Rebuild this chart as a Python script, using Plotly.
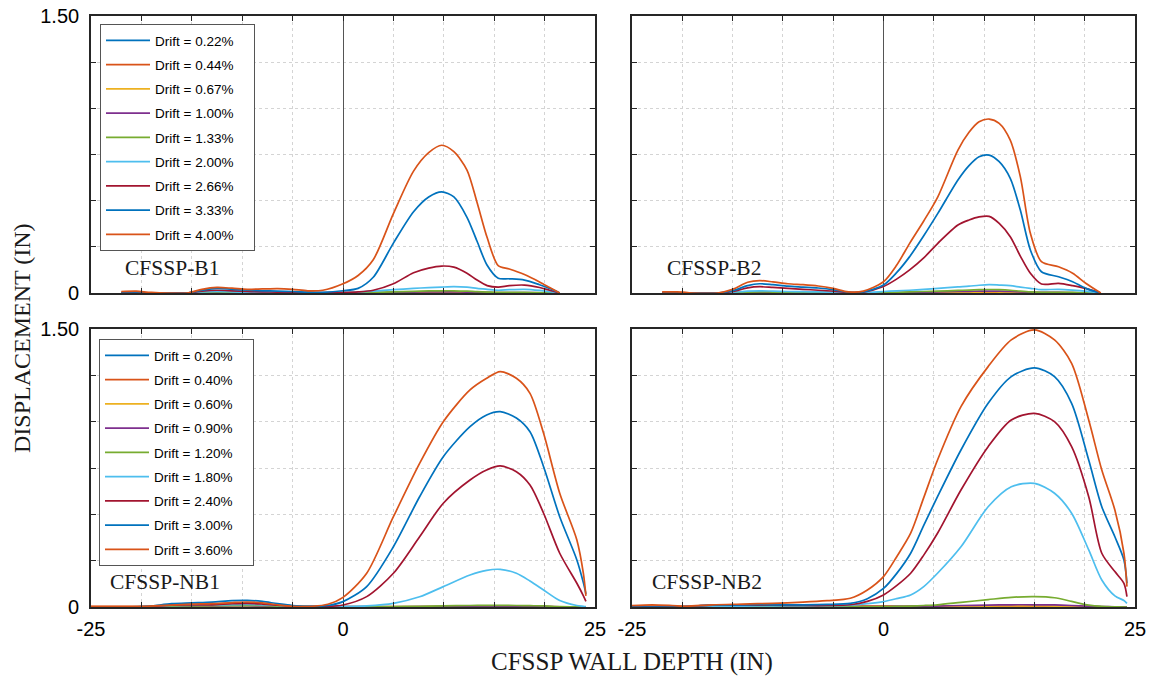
import plotly.graph_objects as go

# ---------------- data: displacement (in) vs wall depth (in) ----------------
# CFSSP-B1
b1_depth = [-22, -20.5, -19, -15.5, -14, -12.5, -11, -9.5, -8, -6.5, -5, -3.5, -2, 0, 1.5, 3, 5, 7,
            8.5, 9.8, 11, 12.3, 13.3, 14.3, 15.4, 16.5, 18, 19.5, 20.5, 21.5]
b1_drift = ["0.22%", "0.44%", "0.67%", "1.00%", "1.33%", "2.00%", "2.66%", "3.33%", "4.00%"]
b1_d022 = [0, 0, 0, 0, 0.001, 0.002, 0.001, 0.001, 0.001, 0.001, 0, 0, 0, 0, 0, 0.001, 0.001, 0.001,
           0.002, 0.002, 0.002, 0.002, 0.001, 0.001, 0.001, 0.001, 0.001, 0, 0, 0]
b1_d044 = [0.002, 0.002, 0, 0, 0.002, 0.002, 0.002, 0.001, 0.001, 0.001, 0.001, 0, 0, 0, 0.001, 0.001, 0.001, 0.002,
           0.002, 0.003, 0.003, 0.002, 0.002, 0.001, 0.001, 0.001, 0.001, 0, 0, 0]
b1_d067 = [0, 0, 0, 0, 0.002, 0.003, 0.002, 0.002, 0.001, 0.001, 0.001, 0.001, 0, 0, 0.001, 0.001, 0.002, 0.003,
           0.004, 0.004, 0.004, 0.003, 0.002, 0.002, 0.001, 0.001, 0.001, 0.001, 0, 0]
b1_d100 = [0, 0, 0, 0, 0.003, 0.004, 0.003, 0.002, 0.002, 0.001, 0.001, 0.001, 0.001, 0.001, 0.001, 0.002, 0.003, 0.005,
           0.006, 0.006, 0.006, 0.005, 0.004, 0.003, 0.002, 0.002, 0.002, 0.001, 0.001, 0]
b1_d133 = [0, 0, 0, 0, 0.004, 0.006, 0.004, 0.003, 0.002, 0.002, 0.001, 0.001, 0.001, 0.001, 0.002, 0.004, 0.006, 0.009,
           0.011, 0.012, 0.012, 0.010, 0.007, 0.005, 0.003, 0.003, 0.003, 0.002, 0.001, 0]
b1_d200 = [0, 0, 0, 0, 0.006, 0.008, 0.006, 0.004, 0.003, 0.002, 0.002, 0.001, 0.001, 0.002, 0.005, 0.010, 0.018, 0.025,
           0.029, 0.032, 0.034, 0.032, 0.025, 0.020, 0.015, 0.018, 0.020, 0.014, 0.007, 0]
b1_d266 = [0, 0, 0, 0, 0.010, 0.015, 0.012, 0.008, 0.006, 0.005, 0.004, 0.003, 0.002, 0.003, 0.006, 0.015, 0.050, 0.110,
           0.135, 0.146, 0.140, 0.107, 0.070, 0.040, 0.032, 0.040, 0.043, 0.030, 0.015, 0]
b1_d333 = [0, 0, 0, 0, 0.015, 0.025, 0.020, 0.015, 0.012, 0.010, 0.008, 0.005, 0.004, 0.012, 0.025, 0.085, 0.270, 0.440,
           0.520, 0.548, 0.520, 0.410, 0.280, 0.150, 0.080, 0.077, 0.070, 0.045, 0.025, 0]
b1_d400 = [0.008, 0.010, 0.003, 0.000, 0.020, 0.030, 0.026, 0.020, 0.022, 0.024, 0.020, 0.012, 0.015, 0.050, 0.095,
           0.180, 0.430, 0.660, 0.760, 0.800, 0.765, 0.666, 0.490, 0.300, 0.148, 0.130, 0.100, 0.060, 0.030, 0.000]

# CFSSP-B2
b2_depth = [-22, -20.5, -19, -16.5, -15, -13.5, -12.3, -11, -9.5, -8, -6.5, -5, -3.5, -2, 0, 1.3, 2.6, 4, 5.4,
            7.4, 8.5, 9.5, 10.5, 11.5, 12.6, 13.6, 14.6, 15.7, 17.4, 18.8, 20.1, 21.6]
b2_drift = b1_drift
b2_d022 = [0, 0, 0, 0, 0.001, 0.001, 0.002, 0.001, 0.001, 0.001, 0.001, 0, 0, 0, 0, 0, 0.001, 0.001, 0.001,
           0.002, 0.002, 0.002, 0.002, 0.002, 0.002, 0.001, 0.001, 0.001, 0.001, 0, 0, 0]
b2_d044 = [0.003, 0.003, 0, 0, 0.001, 0.002, 0.002, 0.002, 0.002, 0.001, 0.001, 0.001, 0, 0, 0, 0.001, 0.001, 0.001,
           0.002, 0.003, 0.003, 0.003, 0.004, 0.003, 0.003, 0.002, 0.001, 0.001, 0.001, 0.001, 0, 0]
b2_d067 = [0, 0, 0, 0, 0.001, 0.003, 0.003, 0.003, 0.002, 0.002, 0.002, 0.001, 0, 0, 0.001, 0.001, 0.002, 0.002,
           0.003, 0.004, 0.005, 0.005, 0.006, 0.005, 0.004, 0.003, 0.002, 0.002, 0.002, 0.001, 0.001, 0]
b2_d100 = [0, 0, 0, 0, 0.002, 0.004, 0.004, 0.004, 0.003, 0.003, 0.002, 0.002, 0.001, 0.001, 0.001, 0.002, 0.003, 0.004,
           0.006, 0.008, 0.009, 0.010, 0.010, 0.010, 0.008, 0.006, 0.004, 0.003, 0.003, 0.002, 0.001, 0]
b2_d133 = [0, 0, 0, 0, 0.002, 0.005, 0.006, 0.005, 0.004, 0.003, 0.003, 0.002, 0.001, 0.001, 0.002, 0.004, 0.006, 0.008,
           0.010, 0.014, 0.016, 0.018, 0.019, 0.018, 0.015, 0.010, 0.006, 0.004, 0.004, 0.003, 0.002, 0]
b2_d200 = [0, 0, 0, 0, 0.004, 0.010, 0.012, 0.010, 0.008, 0.007, 0.006, 0.004, 0.002, 0.002, 0.008, 0.012, 0.015, 0.020,
           0.025, 0.033, 0.037, 0.042, 0.045, 0.043, 0.040, 0.032, 0.025, 0.018, 0.020, 0.016, 0.010, 0]
b2_d266 = [0, 0, 0, 0, 0.008, 0.028, 0.034, 0.030, 0.025, 0.020, 0.015, 0.010, 0.003, 0.005, 0.035, 0.075, 0.125, 0.190,
           0.269, 0.368, 0.395, 0.412, 0.415, 0.377, 0.305, 0.200, 0.107, 0.049, 0.052, 0.040, 0.025, 0]
b2_d333 = [0, 0, 0, 0, 0.012, 0.040, 0.050, 0.045, 0.037, 0.032, 0.027, 0.018, 0.004, 0.006, 0.043, 0.110, 0.197, 0.310,
           0.431, 0.612, 0.690, 0.738, 0.747, 0.711, 0.621, 0.449, 0.233, 0.115, 0.088, 0.061, 0.025, 0]
b2_d400 = [0.006, 0.006, 0, 0, 0.020, 0.058, 0.067, 0.060, 0.050, 0.045, 0.038, 0.025, 0.006, 0.010, 0.061, 0.150,
           0.269, 0.390, 0.521, 0.774, 0.870, 0.927, 0.942, 0.919, 0.828, 0.630, 0.323, 0.170, 0.142, 0.107, 0.053, 0]

# CFSSP-NB1
nb1_depth = [-25, -22, -19.5, -17, -15, -13, -11, -9.5, -8, -6.5, -5, -3, -1.5, 0, 2.35, 5, 7.6, 9.95, 12.6,
             14.25, 15.6, 17.2, 18.55, 19.9, 21.5, 23.2, 23.85, 24.1]
nb1_drift = ["0.20%", "0.40%", "0.60%", "0.90%", "1.20%", "1.80%", "2.40%", "3.00%", "3.60%"]
nb1_d020 = [0, 0, 0.002, 0.012, 0.015, 0.016, 0.020, 0.022, 0.018, 0.010, 0.004, 0.002, 0.002, 0.002, 0.002, 0.001,
            0.001, 0.001, 0.001, 0.001, 0.001, 0.001, 0.001, 0.001, 0, 0, 0, 0]
nb1_d040 = [0.002, 0.002, 0.002, 0.006, 0.010, 0.013, 0.016, 0.018, 0.015, 0.009, 0.004, 0.002, 0.002, 0.002, 0.002,
            0.002, 0.002, 0.002, 0.002, 0.002, 0.002, 0.002, 0.002, 0.001, 0.001, 0, 0, 0]
nb1_d060 = [0, 0, 0.001, 0.003, 0.004, 0.005, 0.006, 0.006, 0.005, 0.003, 0.002, 0.001, 0, 0, 0, 0.001, 0.001, 0.002,
            0.002, 0.003, 0.003, 0.002, 0.002, 0.002, 0.001, 0, 0, 0]
nb1_d090 = [0, 0, 0.001, 0.004, 0.005, 0.006, 0.007, 0.007, 0.006, 0.004, 0.002, 0.001, 0.001, 0, 0.001, 0.001, 0.002,
            0.003, 0.004, 0.004, 0.004, 0.004, 0.003, 0.003, 0.001, 0, 0, 0]
nb1_d120 = [0, 0, 0.001, 0.005, 0.006, 0.007, 0.008, 0.009, 0.008, 0.005, 0.003, 0.001, 0.001, 0.001, 0.001, 0.002,
            0.004, 0.006, 0.008, 0.009, 0.009, 0.008, 0.007, 0.006, 0.002, 0.001, 0, 0]
nb1_d180 = [0, 0, 0.002, 0.008, 0.010, 0.011, 0.013, 0.014, 0.012, 0.008, 0.004, 0.002, 0.002, 0.002, 0.006, 0.020,
            0.055, 0.110, 0.173, 0.198, 0.203, 0.182, 0.140, 0.092, 0.035, 0.008, 0.004, 0.002]
nb1_d240 = [0, 0, 0.002, 0.010, 0.011, 0.012, 0.018, 0.020, 0.016, 0.010, 0.004, 0.002, 0.003, 0.011, 0.056, 0.182,
            0.379, 0.560, 0.685, 0.739, 0.761, 0.730, 0.658, 0.506, 0.290, 0.128, 0.060, 0.030]
nb1_d300 = [0, 0, 0.003, 0.018, 0.022, 0.026, 0.034, 0.036, 0.030, 0.018, 0.008, 0.003, 0.008, 0.029, 0.110, 0.325,
            0.595, 0.811, 0.973, 1.036, 1.054, 1.020, 0.946, 0.757, 0.487, 0.254, 0.130, 0.070]
nb1_d360 = [0.004, 0.004, 0.004, 0.010, 0.015, 0.018, 0.024, 0.027, 0.022, 0.012, 0.004, 0.004, 0.015, 0.052, 0.182,
            0.487, 0.775, 1.000, 1.171, 1.234, 1.270, 1.234, 1.153, 0.937, 0.614, 0.362, 0.180, 0.060]

# CFSSP-NB2
nb2_depth = [-25, -23, -21, -19.6, -17, -14, -11, -8, -5.6, -3.3, -1.6, 0, 1.3, 2.7, 4, 5.37, 7.7, 10.4, 12.7,
             15, 17, 18.7, 20.4, 21.7, 23, 23.9, 24.2]
nb2_drift = nb1_drift
nb2_d020 = [0, 0, 0, 0, 0.002, 0.003, 0.003, 0.003, 0.003, 0.004, 0.004, 0.004, 0.004, 0.004, 0.003, 0.003, 0.003,
            0.003, 0.003, 0.003, 0.003, 0.002, 0.002, 0.001, 0, 0, 0]
nb2_d040 = [0.004, 0.005, 0.004, 0.002, 0.004, 0.005, 0.005, 0.005, 0.005, 0.005, 0.005, 0.005, 0.004, 0.004, 0.004,
            0.004, 0.004, 0.004, 0.004, 0.004, 0.004, 0.003, 0.002, 0.001, 0, 0, 0]
nb2_d060 = [0, 0, 0, 0, 0.001, 0.001, 0.001, 0.001, 0.001, 0.001, 0.001, 0.001, 0.001, 0.002, 0.002, 0.003, 0.004,
            0.005, 0.006, 0.006, 0.005, 0.004, 0.002, 0.001, 0, 0, 0]
nb2_d090 = [0, 0, 0, 0, 0.001, 0.001, 0.001, 0.001, 0.001, 0.001, 0.001, 0.001, 0.002, 0.003, 0.004, 0.005, 0.008,
            0.010, 0.012, 0.012, 0.011, 0.008, 0.004, 0.002, 0.001, 0, 0]
nb2_d120 = [0, 0, 0, 0, 0.001, 0.001, 0.001, 0.001, 0.001, 0.001, 0.001, 0.002, 0.003, 0.005, 0.008, 0.012, 0.025,
            0.040, 0.052, 0.056, 0.050, 0.030, 0.010, 0.003, 0.001, 0, 0]
nb2_d180 = [0, 0, 0, 0.001, 0.004, 0.005, 0.006, 0.006, 0.007, 0.010, 0.018, 0.029, 0.045, 0.065, 0.110, 0.182, 0.325,
            0.541, 0.649, 0.667, 0.614, 0.506, 0.308, 0.146, 0.060, 0.035, 0.020]
nb2_d240 = [0, 0, 0, 0.003, 0.010, 0.011, 0.010, 0.008, 0.008, 0.012, 0.030, 0.065, 0.115, 0.182, 0.280, 0.398, 0.631,
            0.865, 1.009, 1.045, 1.000, 0.865, 0.595, 0.290, 0.191, 0.128, 0.056]
nb2_d300 = [0, 0, 0, 0.003, 0.010, 0.012, 0.012, 0.012, 0.014, 0.020, 0.045, 0.100, 0.180, 0.290, 0.440, 0.595, 0.847,
            1.099, 1.243, 1.290, 1.243, 1.099, 0.793, 0.541, 0.379, 0.254, 0.128]
nb2_d360 = [0.008, 0.012, 0.008, 0.004, 0.012, 0.016, 0.020, 0.026, 0.034, 0.047, 0.092, 0.164, 0.270, 0.398, 0.590,
            0.793, 1.081, 1.297, 1.441, 1.495, 1.441, 1.315, 1.009, 0.739, 0.523, 0.290, 0.110]

# axis ticks
x_ticks = [-25, -20, -15, -10, -5, 0, 5, 10, 15, 20, 25]
x_labels = ["-25", "", "", "", "", "0", "", "", "", "", "25"]
y_ticks = [0, 0.25, 0.5, 0.75, 1.0, 1.25, 1.5]
y_labels = ["0", "", "", "", "", "", "1.50"]

# ---------------- styling ----------------
colors = ["#0072BD", "#D95319", "#EDB120", "#7E2F8E", "#77AC30",
          "#4DBEEE", "#A2142F", "#0072BD", "#D95319"]
SANS = "Liberation Sans, Arial, sans-serif"
SERIF = "Liberation Serif, Times New Roman, serif"
W, H = 1153, 676
PAD = "\u00a0\u00a0\u00a0\u00a0"   # keeps the legend box a little wider than its text

panels = [
    # name, depth, series, drift labels, axis suffix, legend id, (x0, x1, ytop, ybottom) in px, label x
    ("CFSSP-B1", b1_depth, [b1_d022, b1_d044, b1_d067, b1_d100, b1_d133, b1_d200, b1_d266, b1_d333, b1_d400],
     b1_drift, "", "legend", (91, 595, 16, 293), 123),
    ("CFSSP-B2", b2_depth, [b2_d022, b2_d044, b2_d067, b2_d100, b2_d133, b2_d200, b2_d266, b2_d333, b2_d400],
     b2_drift, "2", None, (632, 1135, 16, 293), 665),
    ("CFSSP-NB1", nb1_depth, [nb1_d020, nb1_d040, nb1_d060, nb1_d090, nb1_d120, nb1_d180, nb1_d240, nb1_d300, nb1_d360],
     nb1_drift, "3", "legend2", (91, 595, 329, 607), 108),
    ("CFSSP-NB2", nb2_depth, [nb2_d020, nb2_d040, nb2_d060, nb2_d090, nb2_d120, nb2_d180, nb2_d240, nb2_d300, nb2_d360],
     nb2_drift, "4", None, (632, 1135, 329, 607), 650),
]

fig = go.Figure()
layout = dict(
    width=W, height=H,
    margin=dict(l=0, r=0, t=0, b=0, autoexpand=False),
    paper_bgcolor="white", plot_bgcolor="white",
    showlegend=True,
    annotations=[],
)

for name, depth, series, drifts, sfx, leg, (x0, x1, yt, yb), lx in panels:
    for i, (vals, drift) in enumerate(zip(series, drifts)):
        assert len(vals) == len(depth)
        tr = dict(
            x=depth, y=vals, mode="lines",
            line=dict(color=colors[i], width=1.7, shape="spline", smoothing=0.8),
            name=f"Drift = {drift}{PAD}",
            xaxis="x" + sfx, yaxis="y" + sfx,
            hoverinfo="skip",
        )
        if leg:
            tr["legend"] = leg
            tr["legendgroup"] = f"{leg}_{i}"
            tr["showlegend"] = True
        else:
            tr["showlegend"] = False
        fig.add_trace(go.Scatter(**tr))

    left = x0 == 91
    bottom = yb == 607
    layout["xaxis" + sfx] = dict(
        domain=[x0 / W, x1 / W], anchor="y" + sfx, range=[-25, 25],
        tickmode="array", tickvals=x_ticks, ticktext=x_labels,
        showticklabels=bottom, automargin=False,
        ticks="inside", ticklen=5, tickwidth=1, tickcolor="#262626",
        showline=True, linecolor="#262626", linewidth=1.6, mirror="ticks",
        showgrid=True, gridcolor="#d4d4d4", griddash="dot", gridwidth=1,
        zeroline=True, zerolinecolor="#555555", zerolinewidth=1,
        tickfont=dict(family=SANS, size=20, color="black"),
        ticklabelstandoff=3, fixedrange=True,
    )
    layout["yaxis" + sfx] = dict(
        domain=[1 - yb / H, 1 - yt / H], anchor="x" + sfx, range=[0, 1.5],
        tickmode="array", tickvals=y_ticks, ticktext=y_labels,
        showticklabels=left, automargin=False,
        ticks="inside", ticklen=5, tickwidth=1, tickcolor="#262626",
        showline=True, linecolor="#262626", linewidth=1.6, mirror="ticks",
        showgrid=True, gridcolor="#d4d4d4", griddash="dot", gridwidth=1,
        zeroline=False,
        tickfont=dict(family=SANS, size=20, color="black"),
        ticklabelstandoff=6, fixedrange=True,
    )
    # specimen name inside the panel
    layout["annotations"].append(dict(
        text=name, xref="paper", yref="paper",
        x=lx / W, y=1 - (yb - 25) / H, xanchor="left", yanchor="middle",
        showarrow=False, font=dict(family=SERIF, size=21.5, color="#1a1a1a"),
    ))

legend_style = dict(
    xanchor="left", yanchor="top",
    bgcolor="white", bordercolor="#555555", borderwidth=1,
    font=dict(family=SANS, size=13.5, color="black"),
    tracegroupgap=3.7, itemwidth=44,
)
layout["legend"] = dict(x=100 / W, y=1 - 24 / H, **legend_style)
layout["legend2"] = dict(x=99 / W, y=1 - 339 / H, **legend_style)

# shared axis titles
layout["annotations"].append(dict(
    text="CFSSP WALL DEPTH (IN)", xref="paper", yref="paper",
    x=632 / W, y=1 - 662 / H, xanchor="center", yanchor="middle",
    showarrow=False, font=dict(family=SERIF, size=25, color="#1a1a1a"),
))
layout["annotations"].append(dict(
    text="DISPLACEMENT (IN)", xref="paper", yref="paper",
    x=22 / W, y=1 - 338 / H, xanchor="center", yanchor="middle", textangle=-90,
    showarrow=False, font=dict(family=SERIF, size=24, color="#1a1a1a"),
))

fig.update_layout(**layout)
fig.write_html("out.html", config={"displayModeBar": False})
